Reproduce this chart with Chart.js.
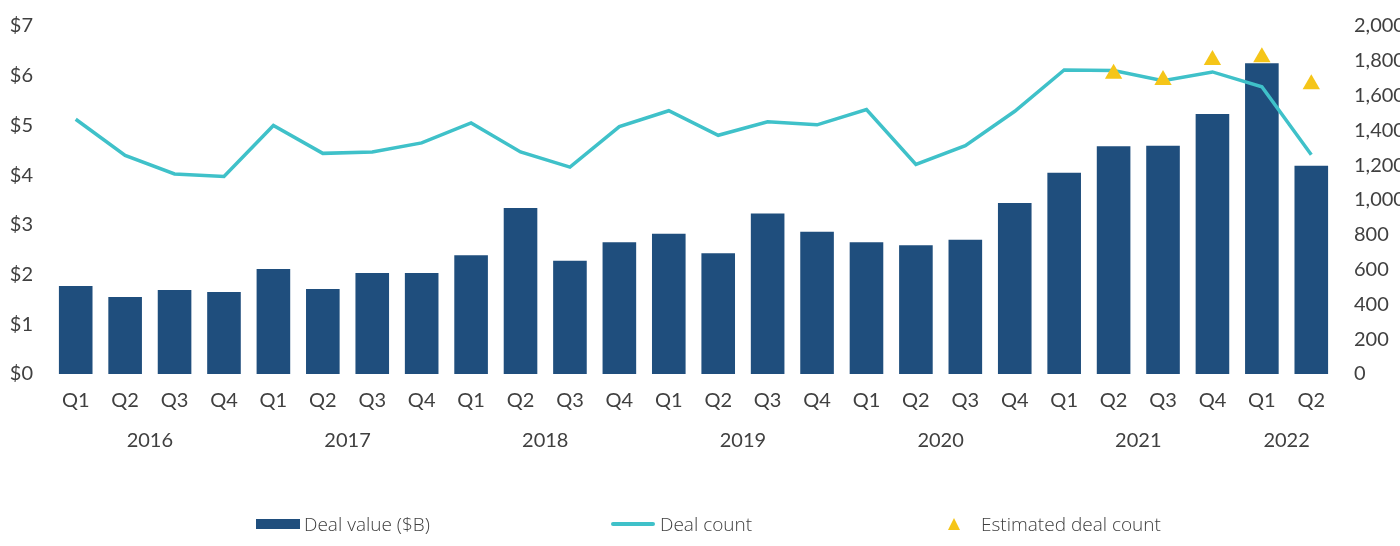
<!DOCTYPE html>
<html>
<head>
<meta charset="utf-8">
<script src="https://cdn.jsdelivr.net/npm/chart.js@4.4.0/dist/chart.umd.min.js"></script>
<style>
  html, body { margin: 0; padding: 0; background: #fff; overflow: hidden; }
  #wrap { position: relative; width: 1406px; height: 546px; }
  #leyenda { position: absolute; left: 0; top: 511px; width: 1400px; height: 26px;
    font-family: "Open Sans", sans-serif; font-size: 19px; font-weight: 300; color: #404040; }
  .item { position: absolute; top: 0; height: 26px; line-height: 26px; white-space: nowrap; }
  .sym { position: absolute; }
</style>
</head>
<body>
<div id="wrap">
  <canvas id="chartDeals" width="1406" height="546"></canvas>
  <div id="leyenda"></div>
</div>
<script>
/* Datos */
const quarters = [
  "Q1", "Q2", "Q3", "Q4", "Q1", "Q2", "Q3", "Q4", "Q1", "Q2", "Q3", "Q4", "Q1",
  "Q2", "Q3", "Q4", "Q1", "Q2", "Q3", "Q4", "Q1", "Q2", "Q3", "Q4", "Q1", "Q2"
];
const years = ["2016", "2017", "2018", "2019", "2020", "2021", "2022"];
const yearPositions = [1.5, 5.5, 9.5, 13.5, 17.5, 21.5, 24.5];

const dealValue = [
  1.77, 1.55, 1.69, 1.65, 2.11, 1.71, 2.03, 2.03, 2.39, 3.34, 2.28, 2.65, 2.82,
  2.43, 3.23, 2.86, 2.65, 2.59, 2.70, 3.44, 4.05, 4.58, 4.59, 5.23, 6.25, 4.19
];
const dealCount = [
  1464, 1256, 1150, 1135, 1428, 1268, 1276, 1328, 1443, 1276, 1189, 1422, 1513,
  1372, 1449, 1432, 1520, 1204, 1312, 1510, 1747, 1744, 1686, 1736, 1651, 1260
];
const estimatedCount = [
  null, null, null, null, null, null, null, null, null, null, null, null, null,
  null, null, null, null, null, null, null, null, 1725, 1690, 1805, 1820, 1665
];
const seriesNames = ["Deal value ($B)", "Deal count", "Estimated deal count"];

const azul = "#1F4E7D";
const cian = "#3FC1C9";
const amarillo = "#F5C518";
const gris = "#404040";

Chart.defaults.font.family = "Lato, sans-serif";
Chart.defaults.font.size = 20;
Chart.defaults.color = gris;

const canvas = document.getElementById("chartDeals");
const context = canvas.getContext("2d");

// ancho fijo de los ejes verticales, sin relleno extra arriba
const fijarEjeY = (ancho) => (axis) => {
  axis.width = ancho;
  axis.paddingTop = 0;
};

const chartDeals = new Chart(context, {
  type: "bar",
  data: {
    labels: quarters,
    datasets: [
      {
        label: seriesNames[0],
        data: dealValue,
        backgroundColor: azul,
        yAxisID: "y",
        barPercentage: 0.68,
        categoryPercentage: 1,
        order: 3,
      },
      {
        type: "line",
        label: seriesNames[1],
        data: dealCount,
        borderColor: cian,
        backgroundColor: cian,
        borderWidth: 3.5,
        pointRadius: 0,
        tension: 0,
        yAxisID: "y1",
        order: 2,
      },
      {
        type: "line",
        label: seriesNames[2],
        data: estimatedCount,
        showLine: false,
        pointStyle: "triangle",
        pointRadius: 10,
        pointBorderWidth: 0,
        backgroundColor: amarillo,
        borderColor: amarillo,
        yAxisID: "y1",
        order: 1,
      },
    ],
  },
  options: {
    responsive: false,
    animation: false,
    layout: {
      padding: { top: 26, left: 10, right: 0, bottom: 82 },
    },
    plugins: {
      legend: { display: false },
      tooltip: { enabled: false },
    },
    scales: {
      x: {
        grid: { display: false, drawTicks: false },
        border: { display: false },
        ticks: { padding: 15, autoSkip: false, maxRotation: 0 },
        afterFit: (axis) => { axis.height = 40; },
      },
      x2: {
        type: "linear",
        position: "bottom",
        offset: false,
        min: -0.5,
        max: 25.5,
        grid: { display: false, drawTicks: false },
        border: { display: false },
        afterBuildTicks: (axis) => {
          axis.ticks = yearPositions.map((v) => ({ value: v }));
        },
        ticks: {
          padding: 15,
          autoSkip: false,
          maxRotation: 0,
          callback: (value) => years[yearPositions.indexOf(value)],
        },
        afterFit: (axis) => { axis.height = 50; },
      },
      y: {
        position: "left",
        min: 0,
        max: 7,
        grid: { display: false, drawTicks: false },
        border: { display: false },
        ticks: { stepSize: 1, padding: 18, callback: (v) => "$" + v },
        afterFit: fijarEjeY(41),
      },
      y1: {
        position: "right",
        min: 0,
        max: 2000,
        grid: { display: false, drawTicks: false },
        border: { display: false },
        ticks: { stepSize: 200, padding: 18, callback: (v) => v.toLocaleString("en-US") },
        afterFit: fijarEjeY(70),
      },
    },
  },
});

// leyenda en HTML
const leyenda = document.getElementById("leyenda");
const itemsLeyenda = [
  { left: 256, textLeft: 48, sym: `<div class="sym" style="left:0;top:8px;width:44px;height:10px;background:${azul}"></div>` },
  { left: 611, textLeft: 49, sym: `<div class="sym" style="left:0;top:11px;width:44px;height:4px;border-radius:2px;background:${cian}"></div>` },
  { left: 932, textLeft: 49, sym: `<div class="sym" style="left:16px;top:7px;width:0;height:0;border-left:6.5px solid transparent;border-right:6.5px solid transparent;border-bottom:12px solid ${amarillo}"></div>` },
];
itemsLeyenda.forEach((it, i) => {
  const div = document.createElement("div");
  div.className = "item";
  div.style.left = it.left + "px";
  div.innerHTML = it.sym + `<span style="position:absolute;left:${it.textLeft}px;top:0">${seriesNames[i]}</span>`;
  leyenda.appendChild(div);
});
</script>
</body>
</html>
